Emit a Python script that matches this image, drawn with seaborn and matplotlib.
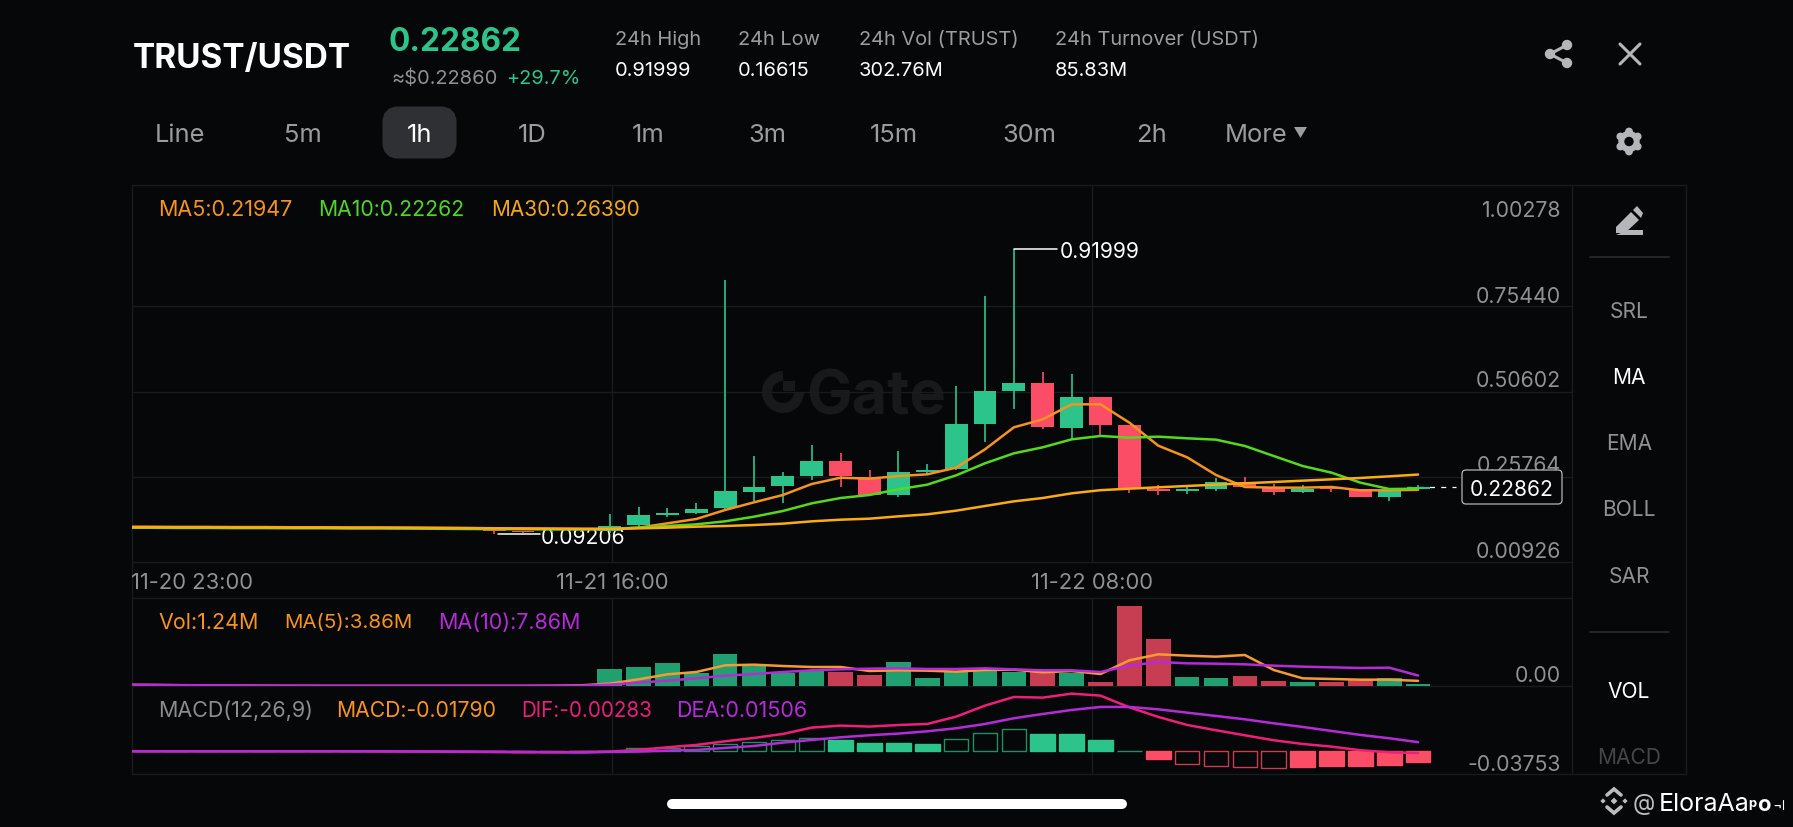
import matplotlib
matplotlib.use('Agg')
import matplotlib.pyplot as plt
from matplotlib.patches import Circle, FancyBboxPatch, Polygon, Arc
import numpy as np
import pandas as pd
import seaborn as sns

W, H = 1793, 828
BG = '#050708'
GRID = '#191c1f'
UP = '#2cc48a'
DOWN = '#fb4d66'
VOL_UP = '#219f70'
VOL_DOWN = '#c73e52'
GREY = '#8f9194'

# hourly candles, 46 of them, first 17 are the flat part before the pump
opens = [0.1105, 0.1105, 0.1100, 0.1100, 0.1095, 0.1095, 0.1090, 0.1090, 0.1085, 0.1085, 0.1080, 0.1075,
         0.1070, 0.1050, 0.1000, 0.0985, 0.0985, 0.0985, 0.1160, 0.1461, 0.1510, 0.1655, 0.2141, 0.2306,
         0.2597, 0.3043, 0.2578, 0.2034, 0.2723, 0.2791, 0.4111, 0.5072, 0.5295, 0.4004, 0.4888, 0.4072,
         0.2228, 0.2170, 0.2209, 0.2413, 0.2286, 0.2141, 0.2286, 0.2209, 0.1995, 0.2218]
closes = [0.1105, 0.1100, 0.1100, 0.1095, 0.1095, 0.1090, 0.1090, 0.1085, 0.1085, 0.1080, 0.1075, 0.1070,
          0.1060, 0.1000, 0.0955, 0.0985, 0.0990, 0.1150, 0.1471, 0.1510, 0.1646, 0.2150, 0.2286, 0.2607,
          0.3043, 0.2587, 0.2034, 0.2713, 0.2781, 0.4111, 0.5082, 0.5295, 0.4014, 0.4888, 0.4082, 0.2228,
          0.2170, 0.2209, 0.2413, 0.2286, 0.2141, 0.2228, 0.2209, 0.1995, 0.2179, 0.22862]
highs = [0.1115, 0.1110, 0.1110, 0.1105, 0.1105, 0.1100, 0.1100, 0.1095, 0.1095, 0.1090, 0.1085, 0.1080,
         0.1075, 0.1065, 0.1005, 0.1000, 0.1000, 0.1490, 0.1684, 0.1674, 0.1820, 0.8305, 0.3179, 0.2723,
         0.3509, 0.3257, 0.2772, 0.3315, 0.2936, 0.5218, 0.7848, 0.91999, 0.5616, 0.5577, 0.4888, 0.4082,
         0.2325, 0.2286, 0.2539, 0.2577, 0.2364, 0.2325, 0.2306, 0.2209, 0.2180, 0.2325]
lows = [0.1095, 0.1095, 0.1090, 0.1090, 0.1085, 0.1085, 0.1080, 0.1080, 0.1075, 0.1075, 0.1070, 0.1065,
        0.1050, 0.09206, 0.0950, 0.0980, 0.0980, 0.0946, 0.1102, 0.1393, 0.1490, 0.1626, 0.1878, 0.1810,
        0.2480, 0.2276, 0.2034, 0.1985, 0.2655, 0.2772, 0.3577, 0.4538, 0.3956, 0.3674, 0.3791, 0.2112,
        0.2053, 0.2073, 0.2160, 0.2267, 0.2053, 0.2102, 0.2131, 0.1995, 0.1879, 0.2189]

ma5 = [0.1120, 0.1120, 0.1115, 0.1115, 0.1110, 0.1110, 0.1105, 0.1105, 0.1100, 0.1100, 0.1095, 0.1090,
       0.1085, 0.1075, 0.1070, 0.1065, 0.1060, 0.1058, 0.1092, 0.1218, 0.1345, 0.1607, 0.1830, 0.2044,
       0.2364, 0.2548, 0.2519, 0.2597, 0.2645, 0.2840, 0.3373, 0.4014, 0.4247, 0.4684, 0.4684, 0.4150,
       0.3480, 0.3141, 0.2626, 0.2277, 0.2257, 0.2257, 0.2277, 0.2180, 0.2180, 0.21947]
ma10 = [0.1090, 0.1090, 0.1085, 0.1085, 0.1080, 0.1080, 0.1075, 0.1075, 0.1070, 0.1070, 0.1065, 0.1060,
        0.1055, 0.1050, 0.1045, 0.1040, 0.1040, 0.1048, 0.1092, 0.1141, 0.1189, 0.1277, 0.1412, 0.1578,
        0.1801, 0.1956, 0.2044, 0.2209, 0.2345, 0.2616, 0.2966, 0.3257, 0.3432, 0.3664, 0.3762, 0.3713,
        0.3742, 0.3694, 0.3655, 0.3471, 0.3179, 0.2888, 0.2694, 0.2403, 0.2218, 0.22262]
ma30 = [0.1105, 0.1105, 0.1100, 0.1100, 0.1095, 0.1095, 0.1090, 0.1090, 0.1085, 0.1085, 0.1085, 0.1080,
        0.1075, 0.1070, 0.1065, 0.1060, 0.1055, 0.1053, 0.1073, 0.1092, 0.1121, 0.1141, 0.1170, 0.1209,
        0.1277, 0.1325, 0.1354, 0.1422, 0.1481, 0.1587, 0.1723, 0.1859, 0.1956, 0.2092, 0.2184, 0.2228,
        0.2267, 0.2306, 0.2345, 0.2384, 0.2422, 0.2461, 0.2500, 0.2539, 0.2587, 0.2639]

# volume in millions
volume = [0.10, 0.10, 0.08, 0.08, 0.06, 0.06, 0.05, 0.05, 0.05, 0.05, 0.05, 0.05, 0.05, 0.08, 0.08, 0.10,
          0.30, 12.5, 14.0, 17.0, 9.5, 24.0, 15.0, 9.5, 12.0, 10.5, 8.0, 18.0, 6.2, 11.0, 11.0, 10.3,
          11.0, 10.0, 3.2, 60.2, 35.0, 7.0, 6.2, 7.7, 3.5, 3.2, 2.8, 4.7, 6.0, 1.24]
vol_ma5 = [0.9, 0.8, 0.6, 0.4, 0.3, 0.2, 0.15, 0.1, 0.1, 0.1, 0.1, 0.1, 0.1, 0.1, 0.1, 0.2,
           0.5, 1.75, 5.0, 8.75, 10.5, 15.5, 16.0, 15.0, 14.25, 14.25, 11.25, 11.75, 11.5, 10.75, 12.0, 12.25,
           10.25, 11.25, 9.0, 19.25, 23.75, 22.75, 22.0, 23.25, 12.0, 5.75, 5.25, 4.75, 4.75, 3.86]
vol_ma10 = [1.0, 0.9, 0.7, 0.5, 0.4, 0.3, 0.25, 0.2, 0.2, 0.15, 0.15, 0.15, 0.15, 0.15, 0.15, 0.2,
            0.3, 1.0, 2.5, 4.0, 5.75, 7.75, 9.0, 10.5, 11.75, 12.5, 13.0, 13.25, 12.75, 12.75, 13.25, 12.5,
            11.75, 11.75, 10.5, 15.25, 18.0, 17.0, 16.75, 16.25, 15.25, 14.5, 14.0, 13.5, 13.75, 7.86]

macd = [0.0, 0.0, 0.0, 0.0, 0.0, 0.0, 0.0, 0.0, 0.0, 0.0, 0.0, -0.0001, -0.0002, -0.0003, -0.0004, -0.0005,
        0.0, 0.0006, 0.0050, 0.0055, 0.0088, 0.0116, 0.0149, 0.0182, 0.0220, 0.0193, 0.0132, 0.0132, 0.0127,
        0.0203, 0.0308, 0.0363, 0.0280, 0.0280, 0.0193, 0.0008, -0.0127, -0.0209, -0.0236, -0.0259, -0.0269,
        -0.0259, -0.0242, -0.0242, -0.0219, -0.0179]
macd_hollow = [0] * 18 + [1, 1, 1, 1, 1, 1, 1, 0, 0, 0, 0, 1, 1, 1, 0, 0, 0, 1, 0, 1, 1, 1, 1, 0, 0, 0, 0, 0]
dif = [0.0, 0.0, 0.0, 0.0, 0.0, 0.0, 0.0, 0.0, 0.0, -0.0002, -0.0004, -0.0006, -0.0010, -0.0014, -0.0016, -0.0016,
       -0.0011, -0.0005, 0.0022, 0.0066, 0.0105, 0.0165, 0.0220, 0.0286, 0.0391, 0.0424, 0.0408, 0.0434, 0.0451,
       0.0572, 0.0754, 0.0897, 0.0886, 0.0952, 0.0919, 0.0726, 0.0567, 0.0435, 0.0347, 0.0264, 0.0182, 0.0121,
       0.0077, 0.0017, -0.0017, -0.00283]
dea = [0.0, 0.0, 0.0, 0.0, 0.0, 0.0, 0.0, 0.0, 0.0, -0.0001, -0.0002, -0.0003, -0.0005, -0.0007, -0.0010, -0.0014,
       -0.0022, -0.0011, -0.0005, 0.0011, 0.0022, 0.0055, 0.0088, 0.0143, 0.0187, 0.0231, 0.0265, 0.0292, 0.0330,
       0.0380, 0.0451, 0.0545, 0.0616, 0.0682, 0.0732, 0.0732, 0.0693, 0.0638, 0.0583, 0.0528, 0.0462, 0.0402,
       0.0336, 0.0270, 0.0215, 0.01506]

price_ticks = ['1.00278', '0.75440', '0.50602', '0.25764', '0.00926']
tabs = ['Line', '5m', '1h', '1D', '1m', '3m', '15m', '30m', '2h', 'More']
tools = ['SRL', 'MA', 'EMA', 'BOLL', 'SAR', 'VOL', 'MACD']
stats = [('24h High', '0.91999'), ('24h Low', '0.16615'), ('24h Vol (TRUST)', '302.76M'),
         ('24h Turnover (USDT)', '85.83M')]

sns.set_theme(style='dark', rc={'figure.facecolor': BG, 'axes.facecolor': 'none'})
plt.rcParams['font.family'] = ['Inter', 'DejaVu Sans']

fig = plt.figure(figsize=(W / 100, H / 100), dpi=100, facecolor=BG)

# screen layer in pixels, everything app-like sits here below the chart
ui = fig.add_axes([0, 0, 1, 1], zorder=0)
ui.set_xlim(0, W)
ui.set_ylim(H, 0)
ui.axis('off')


def label(x, y, s, px=21, color=GREY, ha='left', weight='normal', zorder=5):
    return ui.text(x, y, s, fontsize=px * 0.72, color=color, ha=ha, va='center_baseline',
                   fontweight=weight, zorder=zorder)


def panel(top, bottom):
    ax = fig.add_axes([132 / W, 1 - bottom / H, (1572 - 132) / W, (bottom - top) / H], zorder=2)
    ax.axis('off')
    return ax


# frame and grid
for y in [186, 307, 393, 478, 563, 599, 687, 775]:
    ui.plot([132, 1572], [y, y], color=GRID, lw=1)
for x in [132, 1572]:
    ui.plot([x, x], [186, 775], color=GRID, lw=1)
ui.plot([1686, 1686], [186, 775], color=GRID, lw=1)
ui.plot([1572, 1686], [186, 186], color=GRID, lw=1)
ui.plot([1572, 1686], [775, 775], color=GRID, lw=1)
for x in [612, 1092]:
    ui.plot([x, x], [186, 563], color=GRID, lw=1)
    ui.plot([x, x], [599, 775], color=GRID, lw=1)
for y in [258, 633]:
    ui.plot([1590, 1669], [y, y], color='#2a2c2f', lw=1.2)

# watermark
MARK = '#17191b'
ui.add_patch(Arc((783, 393), 32, 32, theta1=0, theta2=270, color=MARK, lw=7.2))
ui.add_patch(Polygon([[783, 382], [795, 382], [795, 392], [783, 392]], fc=MARK, ec='none'))
label(806, 392, 'Gate', px=61, color=MARK, weight='bold', zorder=1)

# header
label(133, 55, 'TRUST/USDT', px=33.3, color='white', weight='bold')
label(389, 39, '0.22862', px=31.5, color=UP, weight='bold')
label(391, 77, '≈$0.22860', px=20, color=GREY)
label(506, 77, '+29.7%', px=20, color=UP)
for x, (name, val) in zip([615, 738, 859, 1055], stats):
    label(x, 38, name, px=20, color='#9a9c9f')
    label(x, 69, val, px=20, color='white')

ui.add_patch(FancyBboxPatch((390, 115), 59, 37, boxstyle='round,pad=0,rounding_size=8', mutation_aspect=1,
                            fc='#2f3033', ec='#2f3033', lw=15 * 0.72))
for x, t in zip([179.5, 303, 420, 532, 648, 767, 894, 1029, 1151, 1256], tabs):
    label(x, 133, t, px=25.5, color='white' if t == '1h' else '#9a9c9f', ha='center')
ui.add_patch(Polygon([[1294, 128], [1307, 128], [1300.5, 139]], fc='#9a9c9f', ec='none'))

# top right icons
ICON = '#b4b6b9'
share = [(1567, 46), (1550, 55), (1567, 64)]
ui.plot([share[0][0], share[1][0], share[2][0]], [share[0][1], share[1][1], share[2][1]], color=ICON, lw=2.2)
for c in share:
    ui.add_patch(Circle(c, 4.5, color=ICON))
ui.plot([1620, 1640], [45, 65], color=ICON, lw=2.2, solid_capstyle='round')
ui.plot([1620, 1640], [65, 45], color=ICON, lw=2.2, solid_capstyle='round')
ui.add_patch(Circle((1629, 142.5), 10, color=ICON))
for a in np.deg2rad([90, 150, 210, 270, 330, 30]):
    ui.add_patch(Circle((1629 + 10 * np.cos(a), 142.5 + 10 * np.sin(a)), 3.2, color=ICON))
ui.add_patch(Circle((1629, 142.5), 4, color=BG))
ui.add_patch(Polygon([[1616, 228], [1616, 234], [1625, 234], [1639, 221], [1631, 213]], fc=ICON, ec='none'))
ui.add_patch(Polygon([[1633, 211], [1637, 207], [1643, 214], [1641, 219]], fc=ICON, ec='none'))
ui.add_patch(Polygon([[1628, 231], [1643, 231], [1643, 236], [1616, 236]], fc=ICON, ec='none'))

for y, t in zip([310, 376, 442, 508, 575, 690, 756], tools):
    col = 'white' if t in ('MA', 'VOL') else ('#454648' if t == 'MACD' else GREY)
    label(1629, y, t, px=21, color=col, ha='center')

# captions
label(158, 208, 'MA5:0.21947', px=21.5, color='#f7931e')
label(318, 208, 'MA10:0.22262', px=21.2, color='#4fd62a')
label(491, 208, 'MA30:0.26390', px=20.8, color='#f5a81c')
for y, t in zip([209, 295, 379, 464, 550], price_ticks):
    label(1561, y, t, px=21.3, ha='right')
for x, t in zip([192, 612, 1092], ['11-20 23:00', '11-21 16:00', '11-22 08:00']):
    label(x, 581, t, px=22, ha='center')
label(158, 621, 'Vol:1.24M', px=21.5, color='#f7931e')
label(284, 621, 'MA(5):3.86M', px=20.5, color='#f7931e')
label(438, 621, 'MA(10):7.86M', px=21.5, color='#b52bd8')
label(1561, 674, '0.00', px=21.3, ha='right')
label(158, 709, 'MACD(12,26,9)', px=21.5, color='#8a8c8f')
label(336, 709, 'MACD:-0.01790', px=21.2, color='#f7931e')
label(521, 709, 'DIF:-0.00283', px=20.6, color='#e8207a')
label(676, 709, 'DEA:0.01506', px=21.5, color='#b52bd8')
label(1561, 763, '-0.03753', px=21.3, ha='right')

# high and low flags
label(1060, 250, '0.91999', px=21, color='white')
label(541, 536, '0.09206', px=21, color='white')

# last price tag
ui.add_patch(FancyBboxPatch((1462, 471), 100, 34, boxstyle='round,pad=0,rounding_size=4',
                            fc=BG, ec='#b5b5b5', lw=0.9, zorder=6))
label(1512, 488, '0.22862', px=21, color='white', ha='center', zorder=7)

# bottom bar and repost mark
ui.plot([672, 1122], [805, 805], color='white', lw=7.2, solid_capstyle='round')
LOGO = '#bdbdbd'
ui.plot([1607, 1614, 1621], [796, 790, 796], color=LOGO, lw=2.6, solid_joinstyle='miter')
ui.plot([1607, 1614, 1621], [808, 814, 808], color=LOGO, lw=2.6, solid_joinstyle='miter')
for cx, s in [(1614, 3.4), (1603, 2.6), (1625, 2.6)]:
    ui.add_patch(Polygon([[cx - s, 802], [cx, 802 - s], [cx + s, 802], [cx, 802 + s]], fc=LOGO, ec='none'))
label(1633, 802, '@', px=23, color=LOGO)
label(1659, 802, 'EloraAa', px=25, color='white')
label(1748, 803, 'p', px=13, color='white', weight='bold')
label(1757, 803, 'o', px=22, color='white', weight='bold')
label(1772, 805, '¬', px=15, color='white')
ui.plot([1783, 1783], [801, 810], color='white', lw=0.8)

idx = np.arange(len(closes))
df = pd.DataFrame({'idx': idx, 'open': opens, 'close': closes, 'high': highs, 'low': lows, 'ma5': ma5,
                   'ma10': ma10, 'ma30': ma30, 'volume': volume, 'vol_ma5': vol_ma5, 'vol_ma10': vol_ma10,
                   'macd': macd, 'hollow': macd_hollow, 'dif': dif, 'dea': dea})
df['side'] = np.where(df['close'] >= df['open'], 'up', 'down')
xlim = (0.457, 50.33)

# candles
ax = panel(186, 563)
colors = [UP if s == 'up' else DOWN for s in df['side']]
ax.vlines(df['idx'], df['low'], df['high'], colors=colors, lw=1.2, zorder=2)
ax.bar(df['idx'], (df['close'] - df['open']).abs().clip(lower=0.002), bottom=df[['open', 'close']].min(axis=1),
       width=0.79, color=colors, edgecolor='none', lw=0, zorder=3)
for col, c in [('ma5', '#f7931e'), ('ma10', '#56d81f'), ('ma30', '#fbab14')]:
    sns.lineplot(data=df, x='idx', y=col, color=c, lw=1.8, ax=ax, zorder=4, errorbar=None)
ax.plot([31, 32.5], [0.91999, 0.91999], color='white', lw=1.1)
ax.plot([13.15, 14.6], [0.09206, 0.09206], color='white', lw=1.1)
ax.plot([44.6, 46.3], [0.22862, 0.22862], color='white', lw=0.9, ls=(0, (4, 5)))
ax.set_xlim(*xlim)
ax.set_ylim(0.00926, 1.107)

# volume
ax = panel(599, 687)
sns.barplot(data=df, x='idx', y='volume', hue='side', palette={'up': VOL_UP, 'down': VOL_DOWN}, native_scale=True,
            dodge=False, width=0.85, saturation=1, legend=False, edgecolor='none', linewidth=0, ax=ax, zorder=2)
sns.lineplot(data=df, x='idx', y='vol_ma5', color='#f79a35', lw=1.8, ax=ax, zorder=3, errorbar=None)
sns.lineplot(data=df, x='idx', y='vol_ma10', color='#b52bd8', lw=1.8, ax=ax, zorder=4, errorbar=None)
ax.set_xlim(*xlim)
ax.set_ylim(0, 66)

# macd
ax = panel(687, 775)
face = []
edge = []
for val, hollow in zip(macd, macd_hollow):
    col = UP if val >= 0 else DOWN
    dim = '#1f8f66' if val >= 0 else VOL_DOWN
    face.append('none' if hollow else col)
    edge.append(dim if hollow else col)
ax.bar(df['idx'], df['macd'], width=0.85, color=face, edgecolor=edge, lw=1.0, zorder=2)
sns.lineplot(data=df, x='idx', y='dif', color='#ee1f78', lw=1.8, ax=ax, zorder=3, errorbar=None)
sns.lineplot(data=df, x='idx', y='dea', color='#b52bd8', lw=1.8, ax=ax, zorder=4, errorbar=None)
ax.set_xlim(*xlim)
ax.set_ylim(-0.03753, 0.1078)

fig.savefig('out.png', dpi=100, facecolor=BG)
